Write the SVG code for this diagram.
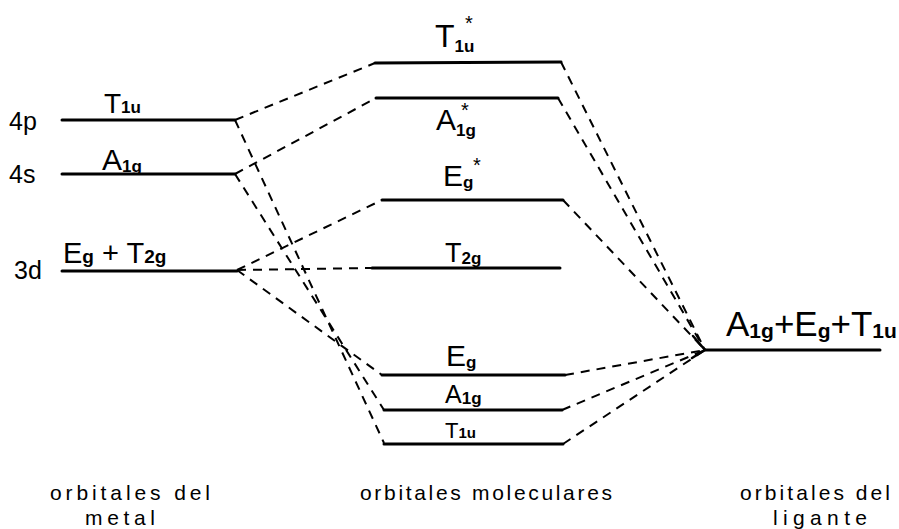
<svg xmlns="http://www.w3.org/2000/svg" width="899" height="529" viewBox="0 0 899 529">
<style>
  .lvl { stroke: #000; stroke-width: 3; fill: none; stroke-linecap: round; }
  .dash { stroke: #000; stroke-width: 2; fill: none; stroke-dasharray: 9 7; }
  .arr { stroke: #000; stroke-width: 2.5; fill: none; stroke-linecap: round; stroke-linejoin: round; }
  text { font-family: "Liberation Sans", Arial, sans-serif; fill: #000; }
  .lab { font-size: 30px; }
  .sub { font-size: 17px; font-weight: bold; }
  .star { font-size: 20px; }
  .orb { font-size: 25px; }
  .cap { font-size: 21px; }
</style>
<rect width="899" height="529" fill="#fff"/>

<g id="connectors">
  <line class="dash" x1="235" y1="120" x2="375" y2="63"/>
  <line class="dash" x1="235" y1="120" x2="384" y2="443"/>
  <line class="dash" x1="235" y1="174" x2="376" y2="98"/>
  <line class="dash" x1="235" y1="174" x2="384" y2="410"/>
  <line class="dash" x1="237" y1="270" x2="382" y2="200"/>
  <line class="dash" x1="237" y1="270" x2="372" y2="268"/>
  <line class="dash" x1="237" y1="270" x2="382" y2="375"/>
  <line class="dash" x1="561" y1="62" x2="705" y2="350"/>
  <line class="dash" x1="558" y1="98" x2="705" y2="350"/>
  <line class="dash" x1="563" y1="200" x2="705" y2="350"/>
  <line class="dash" x1="565" y1="375" x2="705" y2="350"/>
  <line class="dash" x1="562" y1="410" x2="705" y2="350"/>
  <line class="dash" x1="563" y1="444" x2="705" y2="350"/>
  <path class="arr" d="M693,336 L705,350 L692,358"/>
</g>

<g id="metal-4p">
  <line class="lvl" x1="62" y1="120" x2="235" y2="120"/>
  <text class="orb" x="9" y="130">4p</text>
  <text class="lab" x="104" y="113" style="font-size:28px">T<tspan class="sub">1u</tspan></text>
</g>
<g id="metal-4s">
  <line class="lvl" x1="62" y1="174" x2="235" y2="174"/>
  <text class="orb" x="9" y="183">4s</text>
  <text class="lab" x="102" y="170">A<tspan class="sub" dy="2">1g</tspan></text>
</g>
<g id="metal-3d">
  <line class="lvl" x1="62" y1="271" x2="237" y2="271"/>
  <text class="orb" x="14" y="279">3d</text>
  <text class="lab" x="63" y="263" style="font-size:29px">E<tspan class="sub" style="font-size:19px">g</tspan> + T<tspan class="sub" style="font-size:19px">2g</tspan></text>
</g>

<g id="mo-t1u-star">
  <line class="lvl" x1="375" y1="63" x2="561" y2="62"/>
  <text class="lab" x="435" y="47" style="font-size:32px">T<tspan class="sub" dy="5">1u</tspan><tspan class="star" x="465" y="30">*</tspan></text>
</g>
<g id="mo-a1g-star">
  <line class="lvl" x1="376" y1="98" x2="558" y2="98"/>
  <text class="lab" x="436" y="130">A<tspan class="sub" dy="6">1g</tspan><tspan class="star" x="461" y="117">*</tspan></text>
</g>
<g id="mo-eg-star">
  <line class="lvl" x1="382" y1="200" x2="563" y2="200"/>
  <text class="lab" x="443" y="186">E<tspan class="sub" dy="2">g</tspan><tspan class="star" x="473" y="172">*</tspan></text>
</g>
<g id="mo-t2g">
  <line class="lvl" x1="372" y1="268" x2="560" y2="268"/>
  <text class="lab" x="445" y="262" style="font-size:27px">T<tspan class="sub" dy="2">2g</tspan></text>
</g>
<g id="mo-eg">
  <line class="lvl" x1="382" y1="375" x2="565" y2="375"/>
  <text class="lab" x="446" y="366">E<tspan class="sub" dy="2">g</tspan></text>
</g>
<g id="mo-a1g">
  <line class="lvl" x1="384" y1="410" x2="562" y2="410"/>
  <text class="lab" x="445" y="403" style="font-size:25px">A<tspan class="sub" dy="1">1g</tspan></text>
</g>
<g id="mo-t1u">
  <line class="lvl" x1="384" y1="444" x2="563" y2="444"/>
  <text class="lab" x="445" y="438" style="font-size:22px">T<tspan class="sub" style="font-size:15px">1u</tspan></text>
</g>

<g id="ligand">
  <line class="lvl" x1="705" y1="350" x2="880" y2="350"/>
  <text class="lab" x="726" y="336" style="font-size:35px">A<tspan class="sub" style="font-size:21px" dy="2">1g</tspan><tspan dy="-2">+E</tspan><tspan class="sub" style="font-size:21px" dy="2">g</tspan><tspan dy="-2">+T</tspan><tspan class="sub" style="font-size:21px" dy="2">1u</tspan></text>
</g>

<g id="captions">
  <text class="cap" x="50" y="500" textLength="160" lengthAdjust="spacing">orbitales del</text>
  <text class="cap" x="85" y="525" textLength="70" lengthAdjust="spacing">metal</text>
  <text class="cap" x="360" y="500" textLength="252" lengthAdjust="spacing">orbitales moleculares</text>
  <text class="cap" x="740" y="500" textLength="150" lengthAdjust="spacing">orbitales del</text>
  <text class="cap" x="773" y="525" textLength="94" lengthAdjust="spacing">ligante</text>
</g>
</svg>
